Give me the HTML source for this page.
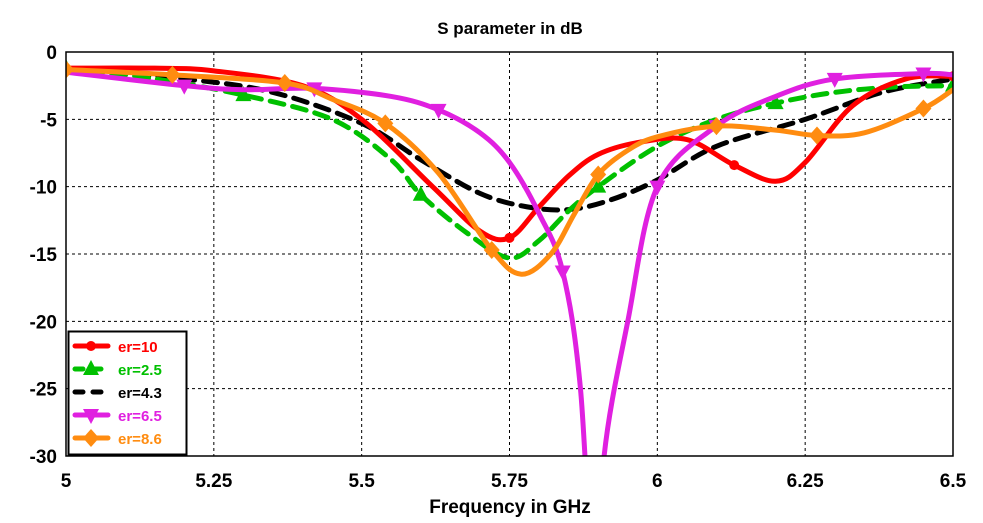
<!DOCTYPE html>
<html><head><meta charset="utf-8"><style>
html,body{margin:0;padding:0;background:#fff;overflow:hidden;width:983px;height:523px;}
svg{display:block;position:absolute;left:0;top:0;}
svg text{font-family:"Liberation Sans",Tahoma,sans-serif;font-weight:bold;}
</style></head><body>
<svg id="chart" width="983" height="523" xmlns="http://www.w3.org/2000/svg" overflow="hidden">
<rect width="983" height="523" fill="#fff"/>
<text x="510" y="34" font-size="17" text-anchor="middle">S parameter in dB</text>
<text x="510" y="513" font-size="19" text-anchor="middle">Frequency in GHz</text>
<g id="grid"></g>
<g id="ticks"></g>
<defs><clipPath id="pc"><rect x="66" y="52" width="887" height="404"/></clipPath></defs>
<g id="series" clip-path="url(#pc)"></g>
<rect x="66" y="52" width="887" height="404" fill="none" stroke="#000" stroke-width="1.5"/>
<g id="legend"></g>
</svg>
<script>
const xTicks=[5,5.25,5.5,5.75,6,6.25,6.5];
const xTickLabels=["5","5.25","5.5","5.75","6","6.25","6.5"];
const yTicks=[0,-5,-10,-15,-20,-25,-30];
const yTickLabels=["0","-5","-10","-15","-20","-25","-30"];
const seriesNames=["er=10","er=2.5","er=4.3","er=6.5","er=8.6"];
const f10=[5,5.15,5.25,5.4,5.5,5.62,5.7,5.75,5.8,5.85,5.9,5.97,6.05,6.13,6.2,6.25,6.33,6.42,6.5];
const v10=[-1.2,-1.2,-1.4,-2.5,-5,-10,-13.3,-13.8,-11.5,-9.2,-7.6,-6.7,-6.5,-8.4,-9.6,-8.2,-4,-2,-1.8];
const m10=[7,13,18];
const f25=[5,5.15,5.3,5.45,5.55,5.6,5.68,5.75,5.8,5.85,5.9,6,6.1,6.2,6.3,6.4,6.5];
const v25=[-1.2,-2,-3.2,-5,-8,-10.6,-13.5,-15.3,-14,-11.8,-10,-7,-5,-3.8,-3,-2.6,-2.5];
const m25=[0,2,5,10,13,16];
const f43=[5,5.2,5.35,5.5,5.6,5.7,5.78,5.85,5.92,6,6.1,6.25,6.38,6.5];
const v43=[-1.3,-2,-3,-5.3,-8,-10.5,-11.5,-11.7,-11,-9.5,-7,-5,-3,-2];
const m43=[];
const f65=[5,5.2,5.3,5.42,5.55,5.63,5.7,5.75,5.8,5.84,5.87,5.895,5.91,5.95,6,6.1,6.2,6.3,6.45,6.5];
const v65=[-1.5,-2.5,-2.8,-2.7,-3.3,-4.3,-6,-8.2,-12,-16.3,-25,-42,-30,-20,-10,-5.5,-3.3,-2,-1.6,-1.7];
const m65=[1,3,5,9,14,15,17,18];
const f86=[5,5.18,5.37,5.45,5.54,5.63,5.72,5.77,5.82,5.86,5.9,5.95,6,6.1,6.2,6.27,6.35,6.45,6.5];
const v86=[-1.3,-1.7,-2.3,-3.5,-5.3,-9,-14.7,-16.5,-15,-12,-9.1,-7.3,-6.3,-5.5,-5.8,-6.2,-6,-4.2,-2.8];
const m86=[0,1,2,4,6,10,13,15,17];
const X=f=>66+(f-5)/1.5*887;
const Y=v=>52+(-v)/30*404;
const NS="http://www.w3.org/2000/svg";
function mk(tag,attrs,parent){const e=document.createElementNS(NS,tag);for(const k in attrs)e.setAttribute(k,attrs[k]);parent.appendChild(e);return e;}
const grid=document.getElementById('grid'),ticks=document.getElementById('ticks');
xTicks.forEach((t,i)=>{
  if(i>0&&i<xTicks.length-1){const l=mk('line',{x1:X(t),x2:X(t),y1:52,y2:456,stroke:'#000','stroke-width':1,'stroke-dasharray':'3,3'},grid);
  
  }
  const tx=mk('text',{x:X(t),y:487,'font-size':19,'text-anchor':'middle'},ticks);tx.textContent=xTickLabels[i];
  
  
});
yTicks.forEach((t,i)=>{
  if(i>0&&i<yTicks.length-1){const l=mk('line',{x1:66,x2:953,y1:Y(t),y2:Y(t),stroke:'#000','stroke-width':1,'stroke-dasharray':'3,3'},grid);
  
  }
  const tx=mk('text',{x:57,y:Y(t)+7,'font-size':19,'text-anchor':'end'},ticks);tx.textContent=yTickLabels[i];
  
  
});
function pathD(fs,vs){const p=fs.map((f,i)=>[X(f),Y(vs[i])]);let d='M'+p[0][0]+','+p[0][1];
  for(let i=0;i<p.length-1;i++){const p0=p[i-1]||p[i],p1=p[i],p2=p[i+1],p3=p[i+2]||p2;
    const c1=[p1[0]+(p2[0]-p0[0])/6,p1[1]+(p2[1]-p0[1])/6],c2=[p2[0]-(p3[0]-p1[0])/6,p2[1]-(p3[1]-p1[1])/6];
    d+=` C${c1[0]},${c1[1]} ${c2[0]},${c2[1]} ${p2[0]},${p2[1]}`;}return d;}
function marker(type,x,y,color,parent){
  let e;
  if(type==='circle')e=mk('circle',{cx:x,cy:y,r:5,fill:color},parent);
  else if(type==='up')e=mk('polygon',{points:`${x},${y-9} ${x-8},${y+6} ${x+8},${y+6}`,fill:color},parent);
  else if(type==='down')e=mk('polygon',{points:`${x},${y+9} ${x-8},${y-6} ${x+8},${y-6}`,fill:color},parent);
  else if(type==='diamond')e=mk('polygon',{points:`${x},${y-9} ${x+8},${y} ${x},${y+9} ${x-8},${y}`,fill:color},parent);
  else return;
  
  
}
const S=[
 {f:f10,v:v10,m:m10,c:'#ff0000',dash:null,mt:'circle',n:'series-er-10'},
 {f:f25,v:v25,m:m25,c:'#00c000',dash:'14,9',mt:'up',n:'series-er-2-5'},
 {f:f43,v:v43,m:m43,c:'#000000',dash:'14,9',mt:'none',n:'series-er-4-3'},
 {f:f65,v:v65,m:m65,c:'#e020e0',dash:null,mt:'down',n:'series-er-6-5'},
 {f:f86,v:v86,m:m86,c:'#ff8c10',dash:null,mt:'diamond',n:'series-er-8-6'}];
const sg=document.getElementById('series');
[2,1,0,3,4].forEach(k=>{const s=S[k];
  const g=mk('g',{},sg);
  
  
  const a={d:pathD(s.f,s.v),fill:'none',stroke:s.c,'stroke-width':5,'stroke-linecap':'round','stroke-linejoin':'round'};
  if(s.dash)a['stroke-dasharray']=s.dash;
  const p=mk('path',a,g);
  
  
  s.m.forEach(i=>marker(s.mt,X(s.f[i]),Y(s.v[i]),s.c,g));
});
const lg=document.getElementById('legend');
const box=mk('rect',{x:68.5,y:331.5,width:118,height:123,fill:'#fff',stroke:'#000','stroke-width':2},lg);


S.forEach((s,i)=>{const y=346+i*23;
  const g=mk('g',{},lg);
  
  
  const a={x1:75,x2:108,y1:y,y2:y,stroke:s.c,'stroke-width':5,'stroke-linecap':'round'};
  if(s.dash)a['stroke-dasharray']='8,10';
  mk('line',a,g);
  marker(s.mt,91,y,s.c,g);
  const t=mk('text',{x:118,y:y+6,'font-size':15,fill:s.c==='#000000'?'#000':s.c},g);t.textContent=seriesNames[i];
});
</script>
</body></html>
